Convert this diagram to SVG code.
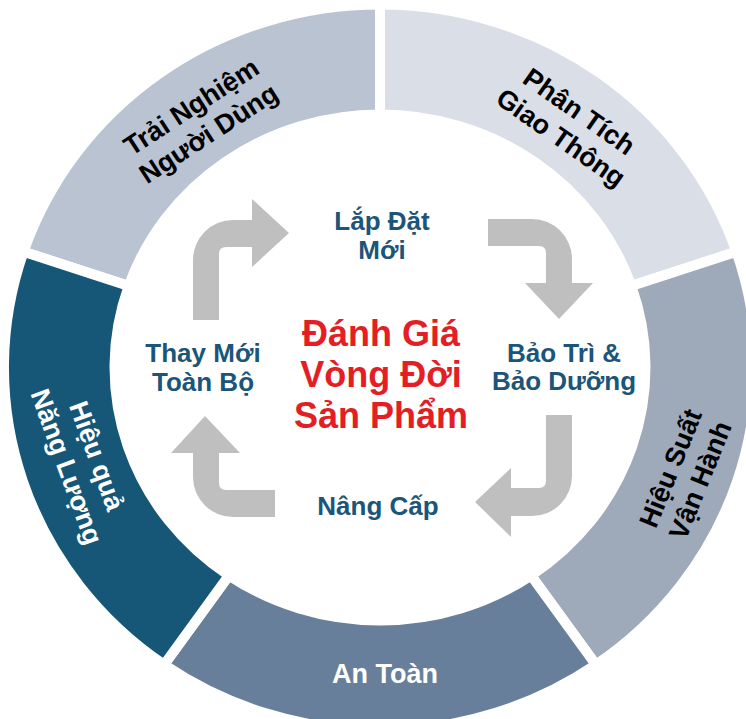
<svg xmlns="http://www.w3.org/2000/svg" width="746" height="719" viewBox="0 0 746 719">
<style>
.seg{stroke:#ffffff;stroke-width:10;stroke-linejoin:miter}
.rl{font-family:"Liberation Sans",Arial,sans-serif;font-weight:bold;font-size:27px;text-anchor:middle}
.st{font-family:"Liberation Sans",Arial,sans-serif;font-weight:bold;font-size:26px;fill:#1B5579;text-anchor:middle}
.ti{font-family:"Liberation Sans",Arial,sans-serif;font-weight:bold;font-size:36px;fill:#E31E24;text-anchor:middle}
.arr{fill:#BFBFBF}
</style>
<rect width="746" height="719" fill="#ffffff"/>
<g id="ring-trai-nghiem">
<path class="seg" fill="#BAC3D1" d="M23.6,251.7 A376,363 0 0 1 380,4.5 L380,114.5 A265.5,253 0 0 0 128.7,285.9 Z"/>
<g transform="translate(199.5,119.5) rotate(-33)"><text class="rl" fill="#000000"><tspan x="0" y="-6">Trải Nghiệm</tspan><tspan x="0" y="26">Người Dùng</tspan></text></g>
</g>
<g id="ring-phan-tich">
<path class="seg" fill="#D9DEE7" d="M380,4.5 A376,363 0 0 1 736.4,251.7 L631.3,285.9 A265.5,253 0 0 0 380,114.5 Z"/>
<g transform="translate(570.5,124) rotate(35)"><text class="rl" fill="#000000"><tspan x="0" y="-6">Phân Tích</tspan><tspan x="0" y="26">Giao Thông</tspan></text></g>
</g>
<g id="ring-hieu-suat">
<path class="seg" fill="#9EA9BA" d="M736.4,251.7 A376,363 0 0 1 595.9,664.7 L531.1,575.5 A265.5,253 0 0 0 631.3,285.9 Z"/>
<g transform="translate(684.7,474) rotate(-68)"><text class="rl" fill="#000000"><tspan x="0" y="-6">Hiệu Suất</tspan><tspan x="0" y="26">Vận Hành</tspan></text></g>
</g>
<g id="ring-an-toan">
<path class="seg" fill="#677F9B" d="M595.9,664.7 A376,363 0 0 1 164.1,664.7 L228.9,575.5 A265.5,253 0 0 0 531.1,575.5 Z"/>
<text class="rl" fill="#ffffff" x="385" y="683">An Toàn</text>
</g>
<g id="ring-hieu-qua">
<path class="seg" fill="#165677" d="M164.1,664.7 A376,363 0 0 1 23.6,251.7 L128.7,285.9 A265.5,253 0 0 0 228.9,575.5 Z"/>
<g transform="translate(82.5,461) rotate(70)"><text class="rl" fill="#ffffff"><tspan x="0" y="-6">Hiệu quả</tspan><tspan x="0" y="26">Năng Lượng</tspan></text></g>
</g>
<g id="connectors">
<path class="arr" d="M193,320 L193,260 A40,40 0 0 1 233,220 L252,220 L252,199 L289,233 L252,267 L252,247 L226,247 Q219,247 219,254 L219,320 Z"/>
<path class="arr" d="M488,219 L532,219 A40,40 0 0 1 572,259 L572,283 L593,283 L559,319 L525,283 L546,283 L546,253 Q546,246 539,246 L488,246 Z"/>
<path class="arr" d="M572,415 L572,476 A40,40 0 0 1 532,516 L511,516 L511,537 L475,502 L511,468 L511,488 L539,488 Q546,488 546,481 L546,415 Z"/>
<path class="arr" d="M275,517 L233,517 A40,40 0 0 1 193,477 L193,453 L171,453 L205,416 L240,453 L219,453 L219,483 Q219,490 226,490 L275,490 Z"/>
</g>
<g id="stage-lap-dat"><text class="st"><tspan x="382" y="230">Lắp Đặt</tspan><tspan x="382" y="259">Mới</tspan></text></g>
<g id="stage-bao-tri"><text class="st"><tspan x="564" y="362">Bảo Trì &amp;</tspan><tspan x="564" y="390">Bảo Dưỡng</tspan></text></g>
<g id="stage-nang-cap"><text class="st" x="378" y="515">Nâng Cấp</text></g>
<g id="stage-thay-moi"><text class="st"><tspan x="203" y="362">Thay Mới</tspan><tspan x="203" y="391">Toàn Bộ</tspan></text></g>
<g id="center-title"><text class="ti"><tspan x="381" y="346">Đánh Giá</tspan><tspan x="381" y="387">Vòng Đời</tspan><tspan x="381" y="428">Sản Phẩm</tspan></text></g>
</svg>
